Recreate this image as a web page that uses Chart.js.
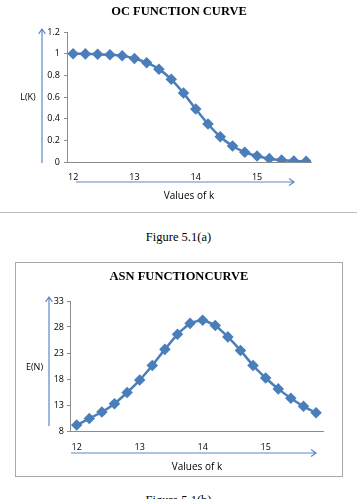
<!DOCTYPE html>
<html>
<head>
<meta charset="utf-8">
<script src="https://cdn.jsdelivr.net/npm/chart.js@4"></script>
<style>
body{margin:0;background:#fff;width:357px;height:499px;overflow:hidden;position:relative;}
.abs{position:absolute;}
.cap{position:absolute;left:0;width:357px;text-align:center;font:12.5px "Liberation Serif",serif;color:#000;}
#box2{position:absolute;left:15px;top:262px;width:326px;height:213px;border:1px solid #a8a8a8;}
</style>
</head>
<body>
<canvas id="ocChart" class="abs" style="left:0;top:0" width="357" height="212"></canvas>
<div class="abs" style="left:0;top:212px;width:357px;height:1px;background:#bdbdbd"></div>
<div class="cap" style="top:230px">Figure 5.1(a)</div>
<div id="box2"><canvas id="asnChart" width="326" height="213"></canvas></div>
<div class="cap" style="top:493px">Figure 5.1(b)</div>
<script>
// k values (x axis)
const kValues = [12,12.2,12.4,12.6,12.8,13,13.2,13.4,13.6,13.8,14,14.2,14.4,14.6,14.8,15,15.2,15.4,15.6,15.8];
// OC function L(K)
const ocValues = [1.0,0.998,0.995,0.99,0.98,0.955,0.917,0.857,0.763,0.636,0.489,0.351,0.233,0.148,0.09,0.055,0.031,0.018,0.01,0.006];
// ASN function E(N)
const asnValues = [9.15,10.4,11.65,13.25,15.4,17.8,20.6,23.7,26.6,28.7,29.3,28.3,26.1,23.5,20.6,18.2,16.1,14.3,12.75,11.5];
const xTicks = [12,13,14,15];

const blue = "#4a7ebb";
const arrowBlue = "#5b8ac6";
const tickFont = {family:"Open Sans", size:9};

function arrow(ctx, x1, y1, x2, y2){
  const ang = Math.atan2(y2-y1, x2-x1);
  ctx.beginPath();
  ctx.moveTo(x1,y1); ctx.lineTo(x2,y2);
  ctx.moveTo(x2 - 6*Math.cos(ang-0.6), y2 - 6*Math.sin(ang-0.6));
  ctx.lineTo(x2,y2);
  ctx.lineTo(x2 - 6*Math.cos(ang+0.6), y2 - 6*Math.sin(ang+0.6));
  ctx.stroke();
}

/* titles, axis labels and arrows */
const decor = {
  id:"decor",
  afterDraw(chart, args, o){
    const ctx = chart.ctx;
    ctx.save();
    ctx.fillStyle = "#000";
    ctx.textAlign = "center";
    ctx.textBaseline = "middle";
    ctx.font = 'bold 12.5px "Liberation Serif"';
    ctx.fillText(o.title, o.titlePos[0], o.titlePos[1]);
    ctx.font = '9px "Open Sans"';
    ctx.fillText(o.yLabel, o.yLabelPos[0], o.yLabelPos[1]);
    ctx.font = '10px "Open Sans"';
    ctx.fillText(o.xLabel, o.xLabelPos[0], o.xLabelPos[1]);
    ctx.strokeStyle = arrowBlue;
    ctx.lineWidth = 1.2;
    arrow(ctx, o.yArrow[0], o.yArrow[1], o.yArrow[2], o.yArrow[3]);
    arrow(ctx, o.xArrow[0], o.xArrow[1], o.xArrow[2], o.xArrow[3]);
    ctx.restore();
  }
};

function makeChart(id, values, yMin, yMax, yStep, xMin, xMax, pad, yWidth, xPad, yPad, deco){
  return new Chart(document.getElementById(id), {
    type:"line",
    data:{
      datasets:[{
        data:kValues.map((k,i)=>({x:k, y:values[i]})),
        borderColor:blue,
        backgroundColor:blue,
        borderWidth:2.5,
        pointStyle:"rectRot",
        pointRadius:4,
        pointBackgroundColor:blue,
        pointBorderColor:blue,
        tension:0.15
      }]
    },
    options:{
      responsive:false,
      animation:false,
      devicePixelRatio:1,
      layout:{padding:pad},
      plugins:{legend:{display:false}, title:{display:false}, tooltip:{enabled:false}, decor:deco},
      scales:{
        x:{
          type:"linear", min:xMin, max:xMax,
          afterBuildTicks:s=>{ s.ticks = xTicks.map(v=>({value:v})); },
          afterFit:s=>{ s.height = 25; },
          grid:{display:false, drawTicks:false},
          border:{display:true, color:"#8c8c8c", width:1},
          ticks:{font:tickFont, color:"#000", padding:xPad, maxRotation:0}
        },
        y:{
          min:yMin, max:yMax,
          afterFit:s=>{ s.width = yWidth; },
          grid:{drawOnChartArea:false, tickLength:3, color:"#8c8c8c"},
          border:{display:true, color:"#8c8c8c", width:1},
          ticks:{stepSize:yStep, font:tickFont, color:"#000", padding:yPad,
                 callback:v=>String(Number(v.toFixed(2)))}
        }
      }
    },
    plugins:[decor]
  });
}

makeChart("ocChart", ocValues, 0, 1.2, 0.2, 11.9, 15.88,
  {left:27, right:46, top:32, bottom:25}, 40, 10, 4,
  {title:"OC FUNCTION CURVE", titlePos:[179,12],
   yLabel:"L(K)", yLabelPos:[28,97],
   xLabel:"Values of k", xLabelPos:[189,196],
   yArrow:[42,163,42,29], xArrow:[76,182,294,182]});

makeChart("asnChart", asnValues, 8, 33, 5, 11.894, 15.91,
  {left:24, right:19, top:38, bottom:20}, 30, 11, 3,
  {title:"ASN FUNCTIONCURVE", titlePos:[163,14],
   yLabel:"E(N)", yLabelPos:[18.5,104],
   xLabel:"Values of k", xLabelPos:[181,204],
   yArrow:[33,163,33,34], xArrow:[55,190,300,190]});
</script>
</body>
</html>
